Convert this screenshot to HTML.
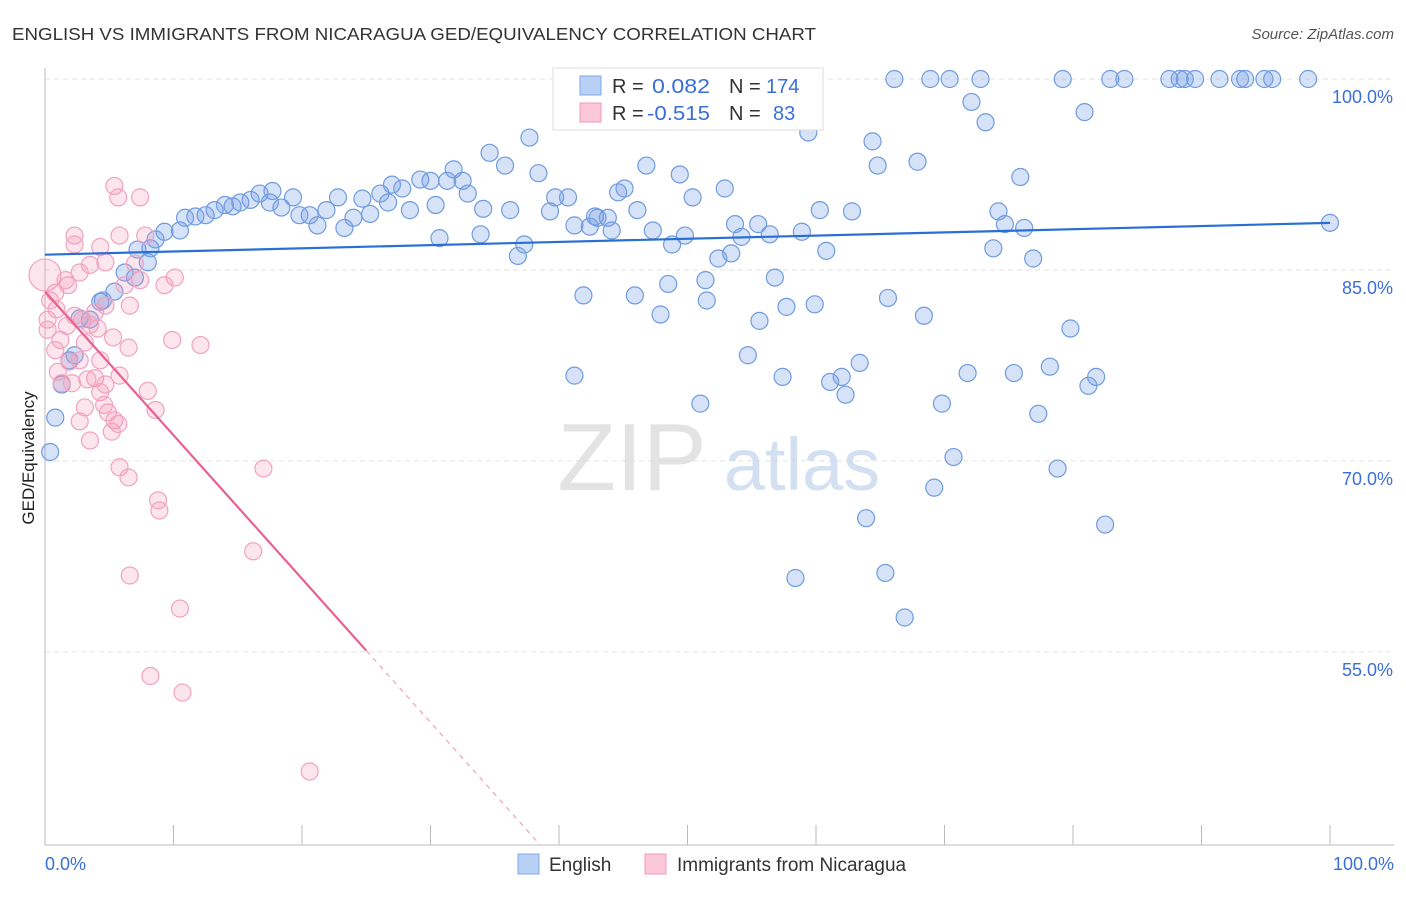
<!DOCTYPE html>
<html><head><meta charset="utf-8"><style>
body{margin:0;background:#fff;font-family:"Liberation Sans",sans-serif;}
svg text{font-family:"Liberation Sans",sans-serif;}
</style></head><body>
<svg id="chart" width="1406" height="892" viewBox="0 0 1406 892" xmlns="http://www.w3.org/2000/svg">
<text x="12" y="40" font-size="17.5" fill="#333" textLength="804" lengthAdjust="spacingAndGlyphs">ENGLISH VS IMMIGRANTS FROM NICARAGUA GED/EQUIVALENCY CORRELATION CHART</text>
<text x="1394" y="39" font-size="15" fill="#555" font-style="italic" text-anchor="end">Source: ZipAtlas.com</text>
<text transform="translate(34,458) rotate(-90)" font-size="17" fill="#222" text-anchor="middle">GED/Equivalency</text>
<g id="grid"></g>
<g>
<text x="632" y="490" font-size="96" fill="#ddd" font-family="Liberation Serif" text-anchor="middle" opacity="0.8">ZIP</text>
<text x="802" y="490" font-size="74" fill="#c9d9ef" text-anchor="middle" opacity="0.8">atlas</text>
</g>
<g id="axes"></g>
<g id="pts"></g>
<g id="trend"></g>
<g>
<rect x="553" y="68" width="270" height="62" fill="#fff" stroke="#ddd"/>
<rect x="580" y="76" width="21" height="19" fill="#b8d0f4" stroke="#7fa8e8"/>
<rect x="580" y="103" width="21" height="19" fill="#fcc8d8" stroke="#f09ab8"/>
<text x="612" y="93" font-size="20" fill="#333">R = </text><text x="652" y="93" font-size="20" fill="#3a6fd8" textLength="58" lengthAdjust="spacingAndGlyphs">0.082</text>
<text x="729" y="93" font-size="20" fill="#333">N = </text><text x="766" y="93" font-size="20" fill="#3a6fd8">174</text>
<text x="612" y="120" font-size="20" fill="#333">R = </text><text x="647" y="120" font-size="20" fill="#3a6fd8" textLength="63" lengthAdjust="spacingAndGlyphs">-0.515</text>
<text x="729" y="120" font-size="20" fill="#333">N = </text><text x="773" y="120" font-size="20" fill="#3a6fd8">83</text>
</g>
<g>
<rect x="518" y="854" width="21" height="20" fill="#b8d0f4" stroke="#7fa8e8"/>
<text x="549" y="871" font-size="19" fill="#333">English</text>
<rect x="645" y="854" width="21" height="20" fill="#fcc8d8" stroke="#f09ab8"/>
<text x="677" y="871" font-size="19" fill="#333">Immigrants from Nicaragua</text>
</g>
</svg>
<script>
const yTicks=[100,85,70,55];
const xTickLabels=["0.0%","100.0%"];
const blueX=[66.1,68.9,70.4,72.8,79.2,82.9,84.0,87.5,88.3,88.7,89.5,91.4,93.0,93.4,94.9,95.5,98.3,72.1,73.2,80.9,59.4,64.4,37.7,34.6,35.8,67.9,64.8,31.8,38.4,46.8,49.4,75.9,52.9,45.1,44.6,50.4,40.7,39.7,32.9,30.0,29.2,31.3,32.5,27.8,27.0,26.1,24.7,22.8,19.3,17.7,16.7,16.0,15.2,14.0,13.2,12.5,11.7,10.9,10.5,9.3,8.6,8.2,8.0,7.2,7.0,6.2,5.4,4.5,4.3,3.5,2.7,2.3,1.9,1.3,0.8,0.4,14.6,17.5,18.4,19.8,20.6,21.2,21.9,23.3,24.0,25.3,26.7,28.4,30.4,34.1,36.2,39.3,41.2,42.4,43.0,43.8,44.1,42.8,46.1,47.3,48.8,49.8,53.7,54.2,55.5,56.4,58.9,60.3,62.8,74.2,74.7,76.2,100,30.7,33.9,36.8,37.3,73.8,76.9,52.4,53.4,60.8,51.4,56.8,48.5,41.9,45.9,51.5,65.6,59.9,57.7,47.9,68.4,55.6,79.8,54.7,63.4,41.2,57.4,61.1,62.0,62.3,71.8,75.4,78.2,81.2,81.8,51.0,69.8,77.3,70.7,78.8,69.2,63.9,82.5,58.4,65.4,66.9];
const blueY=[100,100,100,100,100,100,100,100,100,100,100,100,100,100,100,100,100,98.2,96.6,97.4,95.8,95.1,95.4,94.2,93.2,93.5,93.2,92.9,92.6,93.2,92.5,92.3,91.4,91.4,91.1,90.7,90.7,90.7,91.0,92.0,92.1,92.0,92.0,91.4,91.7,91.0,90.6,90.7,90.7,91.2,91.0,90.5,90.3,90.1,89.7,89.3,89.2,89.1,88.1,88.0,87.4,86.7,85.6,86.6,84.4,84.8,83.3,82.6,82.5,81.1,81.2,78.3,77.9,76.0,73.4,70.7,90.0,90.3,89.9,89.3,89.3,88.5,89.7,88.3,89.1,89.4,90.3,89.7,90.1,89.8,89.7,89.6,88.5,88.4,89.1,89.1,88.1,89.2,89.7,88.1,87.0,87.7,88.6,87.6,88.6,87.8,88.0,89.7,89.6,89.6,88.6,88.3,88.7,87.5,87.8,86.1,87.0,86.7,85.9,85.9,86.3,86.5,84.2,84.4,83.9,83.0,83.0,82.6,82.8,82.3,82.1,81.5,81.4,81.0,80.4,78.3,77.7,76.7,76.6,76.2,76.6,75.2,76.9,76.9,77.4,75.9,76.6,74.5,74.5,73.7,70.3,69.4,67.9,65.5,65.0,60.8,61.2,57.7];
const pinkX=[0,5.4,5.7,7.4,2.3,2.3,5.8,7.8,4.3,4.7,3.5,7.0,10.1,9.3,2.7,1.8,0.8,0.4,0.9,0.2,0.2,1.2,0.8,1.7,2.3,2.9,3.5,4.1,3.9,4.7,6.6,3.1,4.3,1.9,1.3,3.9,4.7,4.3,5.8,6.5,5.3,4.9,4.6,5.4,5.2,5.7,2.7,3.1,3.5,8.0,8.6,9.9,12.1,17.0,5.8,6.5,8.8,8.9,16.2,6.6,10.5,8.2,10.7,20.6,3.3,2.1,2.7,1.0,7.4,6.2,1.6];
const pinkY=[84.6,91.6,90.7,90.7,87.7,87.0,87.7,87.7,86.8,85.6,85.4,85.5,84.4,83.8,84.8,83.8,83.2,82.6,81.9,81.1,80.3,79.5,78.7,80.6,81.4,81.1,80.7,80.4,81.7,82.2,82.2,79.3,77.9,77.8,76.1,76.5,76.0,75.4,76.7,78.9,79.7,73.8,74.4,73.2,72.3,72.9,73.1,74.2,71.6,75.5,74.0,79.5,79.1,69.4,69.5,68.7,66.9,66.1,62.9,61.0,58.4,53.1,51.8,45.6,76.4,76.1,77.9,77.0,84.2,83.8,84.2];
const blueTrend=[86.2,88.7];
const pinkTrend=[83.3,-1.128];
const NS="http://www.w3.org/2000/svg";
const X0=45,X1=1330,Y100=79,PPU=12.73;
function sx(v){return X0+(X1-X0)*v/100;}
function sy(v){return Y100+(100-v)*PPU;}
function mk(tag,attrs,parent){const e=document.createElementNS(NS,tag);for(const k in attrs)e.setAttribute(k,attrs[k]);parent.appendChild(e);return e;}
const grid=document.getElementById('grid'),axes=document.getElementById('axes'),pts=document.getElementById('pts'),trend=document.getElementById('trend');
yTicks.forEach(t=>{
 const l=mk('line',{x1:45,x2:1394,y1:sy(t),y2:sy(t),stroke:'#e2e2e2','stroke-dasharray':'5,4'},grid);
 
 
 const tx=mk('text',{x:1393,y:sy(t)+24,'font-size':18,fill:'#3a6fd8','text-anchor':'end'},axes);
 tx.textContent=t.toFixed(1)+'%';
 
 
});
mk('line',{x1:45,x2:45,y1:68,y2:845,stroke:'#bbb'},axes);
mk('line',{x1:45,x2:1394,y1:845,y2:845,stroke:'#bbb'},axes);
for(let i=0;i<=10;i++){const t=mk('line',{x1:sx(i*10),x2:sx(i*10),y1:825,y2:845,stroke:'#bbb'},axes);
 
 }
const xl0=mk('text',{x:45,y:870,'font-size':18,fill:'#3a6fd8'},axes);xl0.textContent=xTickLabels[0];


const xl1=mk('text',{x:1394,y:870,'font-size':18,fill:'#3a6fd8','text-anchor':'end'},axes);xl1.textContent=xTickLabels[1];


blueX.forEach((v,i)=>{const c=mk('circle',{cx:sx(v),cy:sy(blueY[i]),r:8.5,fill:'rgba(120,160,230,0.3)',stroke:'#6f9be0','stroke-width':1.2},pts);
 
 });
pinkX.forEach((v,i)=>{const c=mk('circle',{cx:sx(v),cy:sy(pinkY[i]),r:i===0?16:8.5,fill:'rgba(245,150,180,0.25)',stroke:'#f2a2bf','stroke-width':1.2},pts);
 
 });
const bl=mk('line',{x1:sx(0),y1:sy(blueTrend[0]),x2:sx(100),y2:sy(blueTrend[1]),stroke:'#2a6fd6','stroke-width':2.2},trend);


const pe=25, pd=(pinkTrend[0]-39.8)/(-pinkTrend[1]);
const pl=mk('line',{x1:sx(0),y1:sy(pinkTrend[0]),x2:sx(pe),y2:sy(pinkTrend[0]+pinkTrend[1]*pe),stroke:'#e8608e','stroke-width':2.2},trend);


const pdl=mk('line',{x1:sx(pe),y1:sy(pinkTrend[0]+pinkTrend[1]*pe),x2:sx(pd),y2:sy(pinkTrend[0]+pinkTrend[1]*pd),stroke:'#f0a0bc','stroke-width':1.2,'stroke-dasharray':'5,5'},trend);


</script>
</body></html>
